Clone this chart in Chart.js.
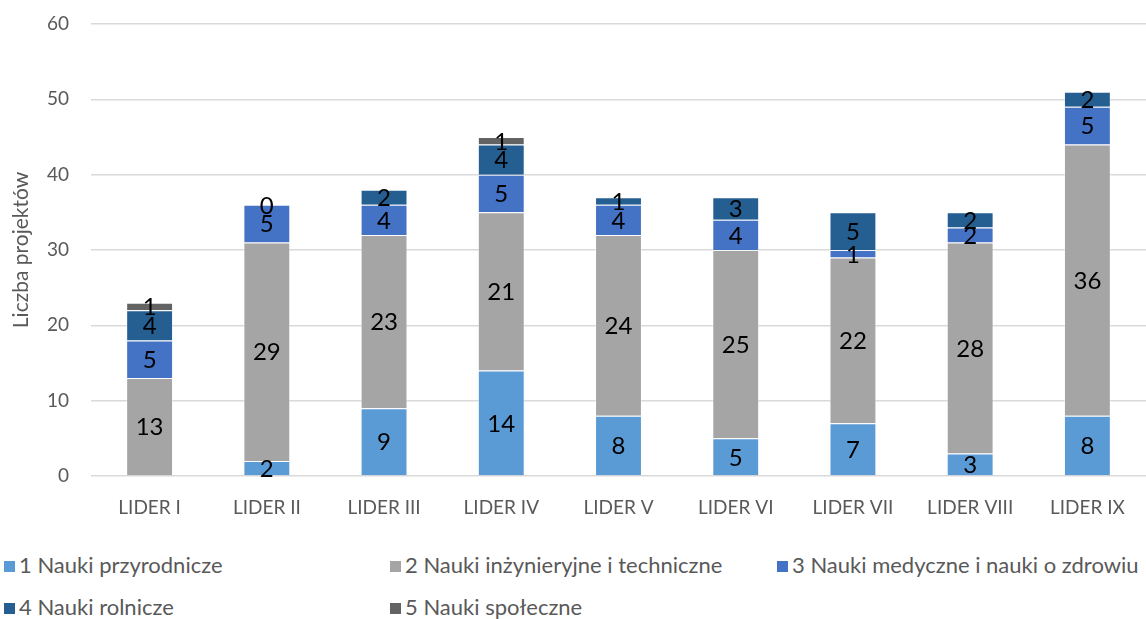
<!DOCTYPE html>
<html>
<head>
<meta charset="utf-8">
<script src="https://cdn.jsdelivr.net/npm/chart.js@4.4.0/dist/chart.umd.min.js"></script>
<style>
  body { margin: 0; background: #fff; font-family: Lato, "Open Sans", sans-serif; overflow: hidden; }
  #wrap { position: relative; width: 1146px; height: 540px; }
  #legend { position: absolute; left: 0; top: 540px; width: 1146px; color: #595959; font-size: 22px; }
  .item { position: absolute; white-space: nowrap; line-height: 24px; }
  .box { display: inline-block; width: 11px; height: 11px; margin-right: 4px; vertical-align: 1px; }
</style>
</head>
<body>
<div id="wrap"><canvas id="liderChart" width="1146" height="540"></canvas></div>
<div id="legend"></div>
<script>
var categories = ['LIDER I', 'LIDER II', 'LIDER III', 'LIDER IV', 'LIDER V', 'LIDER VI', 'LIDER VII', 'LIDER VIII', 'LIDER IX'];
var seriesNames = ['1 Nauki przyrodnicze', '2 Nauki inżynieryjne i techniczne', '3 Nauki medyczne i nauki o zdrowiu', '4 Nauki rolnicze', '5 Nauki społeczne'];
var przyrodnicze = [null, 2, 9, 14, 8, 5, 7, 3, 8];
var inzynieryjne = [13, 29, 23, 21, 24, 25, 22, 28, 36];
var medyczne = [5, 5, 4, 5, 4, 4, 1, 2, 5];
var rolnicze = [4, 0, 2, 4, 1, 3, 5, 2, 2];
var spoleczne = [1, null, null, 1, null, null, null, null, null];
var colors = ['#5B9BD5', '#A5A5A5', '#4472C4', '#255E91', '#636363'];
var yTicks = [0, 10, 20, 30, 40, 50, 60];

var values = [przyrodnicze, inzynieryjne, medyczne, rolnicze, spoleczne];

// draw the value in the middle of every segment
var barLabels = {
    id: 'barLabels',
    afterDatasetsDraw: function(chart) {
        var ctx = chart.ctx;
        ctx.save();
        ctx.font = '24px Lato, "Open Sans", sans-serif';
        ctx.fillStyle = '#000';
        ctx.textAlign = 'center';
        ctx.textBaseline = 'middle';
        chart.data.datasets.forEach(function(ds, i) {
            chart.getDatasetMeta(i).data.forEach(function(bar, j) {
                var v = ds.data[j];
                if (v === null) return;
                ctx.fillText(String(v), bar.x, (bar.y + bar.base) / 2 + 1);
            });
        });
        ctx.restore();
    }
};

var ctx = document.getElementById('liderChart').getContext('2d');
var liderChart = new Chart(ctx, {
    type: 'bar',
    data: {
        labels: categories,
        datasets: values.map(function(v, i) {
            return {
                label: seriesNames[i],
                data: v,
                backgroundColor: colors[i],
                borderColor: 'rgba(255,255,255,0.45)',
                borderWidth: 1,
                categoryPercentage: 1.0,
                barPercentage: 0.4
            };
        })
    },
    options: {
        responsive: false,
        animation: false,
        layout: { padding: { left: 0, right: 0, top: 24, bottom: 0 } },
        scales: {
            x: {
                stacked: true,
                grid: { display: false },
                border: { display: false },
                ticks: { color: '#595959', font: { size: 19, family: 'Lato' }, padding: 12, maxRotation: 0 },
                afterFit: function(scale) { scale.height = 64; }
            },
            y: {
                stacked: true,
                min: 0,
                max: 60,
                afterBuildTicks: function(axis) {
                    axis.ticks = yTicks.map(function(t) { return { value: t }; });
                },
                grid: { color: '#d9d9d9', lineWidth: 1.5, drawTicks: false },
                border: { display: false },
                ticks: { color: '#595959', font: { size: 19, family: 'Lato' }, padding: 22 },
                title: {
                    display: true,
                    text: 'Liczba projektów',
                    color: '#595959',
                    font: { size: 21, family: 'Lato' },
                    padding: { top: 9, bottom: 0 }
                },
                afterFit: function(scale) {
                    scale.width = 91;
                    scale.paddingTop = 0;
                    scale.paddingBottom = 0;
                }
            }
        },
        plugins: {
            legend: { display: false },
            tooltip: { enabled: false }
        }
    },
    plugins: [barLabels]
});

// legend laid out in three columns like the original
var legendEl = document.getElementById('legend');
var colX = [4, 390, 777];
seriesNames.forEach(function(name, i) {
    var item = document.createElement('div');
    item.className = 'item';
    item.style.left = colX[i % 3] + 'px';
    item.style.top = (Math.floor(i / 3) * 42 + 13) + 'px';
    item.innerHTML = '<span class="box" style="background:' + colors[i] + '"></span>' + name;
    legendEl.appendChild(item);
});
</script>
</body>
</html>
